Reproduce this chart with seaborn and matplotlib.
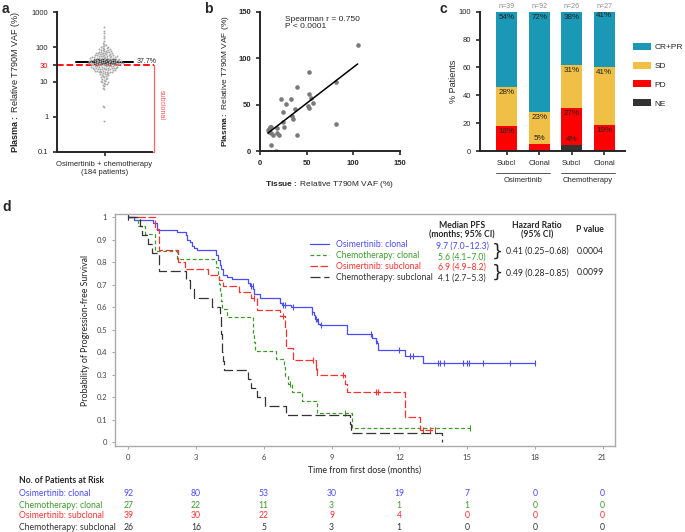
import numpy as np
import pandas as pd
import matplotlib.pyplot as plt
import seaborn as sns
from matplotlib.patches import Patch
from matplotlib.ticker import NullLocator
from matplotlib.transforms import blended_transform_factory

W, H = 685, 532

# ---- panel a: plasma relative T790M VAF (%), one value per patient
vaf_plasma = [380, 300, 250, 210, 180, 150, 130, 120, 115, 110, 105, 100,
              98, 95, 92, 90, 88, 86, 85, 83, 82, 80,
              78, 76, 75, 74, 72, 71, 70, 69, 68, 67, 66, 65, 64, 63, 62, 61, 60, 60,
              59, 58, 57, 56, 55, 55, 54, 53, 52, 51, 50, 50, 49, 48, 48, 47, 46, 46, 45, 45,
              44, 44, 43, 43, 42, 42, 41, 41, 40, 40, 40, 39, 39, 38, 38, 38, 37, 37, 36, 36, 36, 35, 35, 35,
              34, 34, 34, 33, 33, 33, 32, 32, 32, 31, 31, 31, 30, 30, 30, 29, 29, 29, 28, 28, 28,
              27, 27, 27, 26, 26, 26, 25, 25, 25, 24, 24, 24, 23, 23, 23, 22, 22, 22, 21, 21, 21, 20, 20, 20,
              19.5, 19, 18.5, 18, 17.5, 17, 16.5, 16, 15.5, 15, 14.5, 14, 13.5, 13, 12.5,
              12, 11.5, 11, 10.5, 10, 10, 9.5, 9, 8.5, 8,
              7.5, 6.8, 6.2, 2.1, 1.9, 0.78,
              57, 53, 51, 47, 43, 41, 39, 37, 33, 31, 27, 25, 23, 21, 19,
              32, 34, 36, 38, 42, 44, 46, 48, 50]
vaf_center = 37.7
vaf_ci = [33.5, 42.0]
clonal_cut = 30

# ---- panel b: tissue vs plasma VAF
tissue_vaf = [104.6, 52.9, 81.8, 40, 52, 55, 33.2, 22.9, 27.9, 57, 51, 53, 37.1, 35.7, 34.5, 24.3,
              25, 25.7, 81.8, 39.3, 8.6, 10.7, 9.3, 11.8, 13.6, 18.6, 20, 17.9, 11.4, 17, 10, 12]
plasma_vaf = [114.5, 84.7, 74.3, 68.5, 61, 57, 56.3, 55.6, 51, 52, 48, 46, 44.8, 34.8, 37.5, 41.6,
              31.2, 26.2, 28.7, 16.9, 22.6, 25.5, 20.8, 19, 17.2, 19.7, 17.2, 24.8, 6.8, 0.4, 24, 26]

# ---- panel c: best response (% patients)
clonality = ["Subcl", "Clonal", "Subcl", "Clonal"]
arm = ["Osimertinib", "Osimertinib", "Chemotherapy", "Chemotherapy"]
n_pat = [39, 92, 26, 27]
resp_ne = [0, 0, 4, 0]
resp_pd = [18, 5, 27, 19]
resp_sd = [28, 23, 31, 41]
resp_cr = [54, 72, 38, 41]
resp_names = ["CR+PR", "SD", "PD", "NE"]
resp_colors = ["#1b98b6", "#f0bf45", "#ff0000", "#333333"]

# ---- panel d: Kaplan-Meier PFS
blue_t = [0, 0.27, 1.08, 1.25, 2.17, 2.55, 2.62, 2.72, 2.8, 2.9, 3.03, 3.9, 3.97, 4.05, 4.1,
          4.18, 4.35, 4.58, 5.31, 5.4, 5.53, 5.58, 5.83, 6.72, 6.8, 7.19, 8.12, 8.2, 8.27, 8.35,
          8.42, 8.49, 9.67, 10.8, 10.97, 11.03, 11.07, 12.25, 13.05, 18.0]
blue_s = [1.0, 0.99, 0.975, 0.945, 0.935, 0.92, 0.90, 0.89, 0.875, 0.865, 0.857, 0.835, 0.81, 0.79, 0.77,
          0.745, 0.735, 0.725, 0.71, 0.695, 0.68, 0.66, 0.64, 0.62, 0.61, 0.60, 0.58, 0.565, 0.55, 0.54,
          0.525, 0.52, 0.48, 0.465, 0.45, 0.44, 0.41, 0.385, 0.355, 0.355]
blue_cens = [0, 5.45, 5.5, 6.85, 6.95, 7.3, 8.15, 8.3, 8.38, 8.55, 10.75, 10.97, 12.0, 12.47, 12.6,
             13.73, 13.8, 14.0, 14.8, 15.0, 15.1, 15.7, 16.9, 18.0]
green_t = [0, 0.45, 0.75, 1.18, 2.14, 3.9, 3.95, 4.0, 4.05, 4.1, 4.15, 4.35, 5.5, 5.52, 5.55,
           5.6, 6.55, 6.9, 6.95, 7.05, 7.25, 7.7, 8.35, 9.9, 15.15]
green_s = [1.0, 0.963, 0.926, 0.852, 0.815, 0.778, 0.741, 0.704, 0.667, 0.630, 0.593, 0.556, 0.519, 0.481, 0.444,
           0.407, 0.370, 0.333, 0.296, 0.259, 0.222, 0.185, 0.13, 0.065, 0.065]
green_cens = [7.16, 9.6, 15.15]
red_t = [0, 1.2, 1.38, 2.2, 2.5, 3.55, 4.0, 4.2, 4.9, 5.45, 5.7, 6.72, 6.95, 6.97, 7.0, 7.3,
         8.3, 8.37, 9.6, 9.67, 12.25, 12.92, 13.6]
red_s = [1.0, 0.95, 0.855, 0.80, 0.77, 0.745, 0.72, 0.695, 0.667, 0.64, 0.59, 0.562, 0.51, 0.46, 0.42, 0.366,
         0.336, 0.30, 0.26, 0.225, 0.113, 0.056, 0.056]
red_cens = [5.55, 6.83, 8.19, 8.3, 9.52, 10.97, 11.07, 13.05, 13.35, 13.6]
black_t = [0, 0.5, 0.6, 0.85, 1.05, 1.35, 2.55, 2.75, 2.9, 3.7, 4.05, 4.1, 4.15, 4.2, 4.25,
           5.3, 5.45, 5.7, 6.05, 7.0, 9.8, 9.85, 13.88]
black_s = [1.0, 0.96, 0.92, 0.88, 0.84, 0.76, 0.72, 0.68, 0.64, 0.60, 0.56, 0.48, 0.40, 0.36, 0.32,
           0.28, 0.24, 0.20, 0.16, 0.12, 0.08, 0.04, 0.0]
black_cens = [0]

km_names = ["Osimertinib: clonal", "Chemotherapy: clonal", "Osimertinib: subclonal", "Chemotherapy: subclonal"]
km_colors = ["#4b4bff", "#3d9a2b", "#ff3030", "#333333"]
median_pfs = ["9.7 (7.0\u201312.3)", "5.6 (4.1\u20137.0)", "6.9 (4.9\u20138.2)", "4.1 (2.7\u20135.3)"]
hazard_ratio = ["0.41 (0.25\u20130.68)", "0.49 (0.28\u20130.85)"]
p_values = ["0.0004", "0.0099"]
risk_times = [0, 3, 6, 9, 12, 15, 18, 21]
risk_blue = [92, 80, 53, 30, 19, 7, 0, 0]
risk_green = [27, 22, 11, 3, 1, 1, 0, 0]
risk_red = [39, 30, 22, 9, 4, 0, 0, 0]
risk_black = [26, 16, 5, 3, 1, 0, 0, 0]

sns.set_style("ticks")
plt.rcParams['font.family'] = ['Liberation Sans', 'DejaVu Sans']
plt.rcParams['mathtext.fontset'] = 'custom'
plt.rcParams['mathtext.rm'] = 'Liberation Sans'
plt.rcParams['mathtext.bf'] = 'Liberation Sans:bold'


def fx(x):
    return x / W


def fy(y):
    return 1 - y / H


fig = plt.figure(figsize=(W / 100, H / 100), dpi=100)

# ================= a
ax_a = fig.add_axes([fx(57.3), fy(151.7), 94.4 / W, 139.4 / H])
ax_a.set_yscale("log")
df_a = pd.DataFrame({"group": "Osimertinib + chemotherapy\n(184 patients)", "vaf": vaf_plasma})
sns.swarmplot(data=df_a, x="group", y="vaf", ax=ax_a, size=1.4, color="#a8a8a8", linewidth=0)
ax_a.set_xlim(-0.5, 0.5)
ax_a.set_ylim(0.1, 1000)
ax_a.plot([-0.306, 0.306], [vaf_center] * 2, color="black", lw=1.4)
ax_a.errorbar(0, vaf_center, yerr=[[vaf_center - vaf_ci[0]], [vaf_ci[1] - vaf_center]],
              color="black", capsize=8, lw=1.2, capthick=1.2)
ax_a.text(0.34, vaf_center, f"{vaf_center}%", fontsize=5, va="center")
ax_a.plot([-0.5, 0.527], [clonal_cut] * 2, color="red", ls="--", lw=1.3, clip_on=False)
ax_a.plot([0.50, 0.527, 0.527], [0.1, 0.1, clonal_cut], color="#ff6060", lw=0.9, clip_on=False)
ax_a.text(0.6, 2.2, "subclonal", color="#ff5050", fontsize=5, rotation=270, ha="center", va="center")
ax_a.set_yticks([0.1, 1, 10, 30, 100, 1000])
ax_a.set_yticklabels(["0.1", "1", "10", "30", "100", "1000"])
ax_a.yaxis.set_minor_locator(NullLocator())
ax_a.get_yticklabels()[3].set_color("red")
ax_a.set_xlabel("")
ax_a.set_ylabel(r"$\mathbf{Plasma{:}}$ Relative T790M VAF (%)", fontsize=6.5)
ax_a.yaxis.set_label_coords(-0.37, 0.5)
ax_a.tick_params(labelsize=5.5, width=1.2, length=3)
sns.despine(ax=ax_a)
for sp in ax_a.spines.values():
    sp.set_linewidth(1.4)

# ================= b
ax_b = fig.add_axes([fx(260), fy(151), 140 / W, 139.3 / H])
df_b = pd.DataFrame({"tissue": tissue_vaf, "plasma": plasma_vaf})
sns.regplot(data=df_b, x="tissue", y="plasma", ax=ax_b, ci=None, color="#7a7a7a",
            scatter_kws={"s": 11, "linewidths": 0, "alpha": 1},
            line_kws={"color": "black", "lw": 1.1})
ax_b.set_xlim(0, 150)
ax_b.set_ylim(0, 150)
ax_b.set_xticks([0, 50, 100, 150])
ax_b.set_yticks([0, 50, 100, 150])
ax_b.tick_params(labelsize=5.5, width=1.2, length=3)
for lab in ax_b.get_xticklabels() + ax_b.get_yticklabels():
    lab.set_fontweight("bold")
ax_b.set_xlabel(r"$\mathbf{Tissue{:}}$ Relative T790M VAF (%)", fontsize=6)
ax_b.set_ylabel(r"$\mathbf{Plasma{:}}$ Relative T790M VAF (%)", fontsize=6)
ax_b.xaxis.set_label_coords(0.5, -0.2)
ax_b.yaxis.set_label_coords(-0.21, 0.5)
ax_b.text(0.18, 0.97, "Spearman r = 0.750\nP < 0.0001", transform=ax_b.transAxes,
          fontsize=6, va="top", linespacing=1.1)
sns.despine(ax=ax_b)
for sp in ax_b.spines.values():
    sp.set_linewidth(1.4)

# ================= c
ax_c = fig.add_axes([fx(480), fy(151), 145 / W, 139.3 / H])
cols = [f"{a}-{c}-{i}" for i, (a, c) in enumerate(zip(arm, clonality))]
layers = [np.array(resp_ne), np.array(resp_pd), np.array(resp_sd), np.array(resp_cr)]
cum = np.cumsum(layers, axis=0)
for k in range(3, -1, -1):
    sns.barplot(x=cols, y=cum[k], ax=ax_c, color=resp_colors[3 - k], width=0.65,
                saturation=1, edgecolor="none")
for i in range(4):
    bottom = 0
    for k in range(4):
        v = layers[k][i]
        top = bottom + v
        if v > 0:
            ypos = top - 4 if v >= 8 else top + 4
            ax_c.text(i, ypos, f"{v}%", ha="center", va="center", fontsize=5.8, color="#222222")
        bottom = top
    ax_c.text(i, 103.5, f"n={n_pat[i]}", ha="center", va="center", fontsize=5, color="#8a8a8a")
ax_c.set_ylim(0, 100)
ax_c.set_xlim(-0.82, 3.64)
ax_c.set_yticks(range(0, 101, 20))
ax_c.set_xticks(range(4))
ax_c.set_xticklabels(clonality)
ax_c.tick_params(labelsize=5.5, width=1.2, length=3)
ax_c.set_ylabel("% Patients", fontsize=6.5)
ax_c.yaxis.set_label_coords(-0.15, 0.5)
tr_c = ax_c.get_xaxis_transform()
for g, name in enumerate(["Osimertinib", "Chemotherapy"]):
    x0 = 2 * g
    ax_c.plot([x0 - 0.33, x0 + 1.33], [-0.16, -0.16], transform=tr_c, color="#555555", lw=0.7, clip_on=False)
    ax_c.text(x0 + 0.5, -0.21, name, transform=tr_c, ha="center", va="center", fontsize=5.5)
sns.despine(ax=ax_c)
for sp in ax_c.spines.values():
    sp.set_linewidth(1.4)
handles_c = [Patch(facecolor=c, edgecolor="none") for c in resp_colors]
fig.legend(handles_c, resp_names, loc="upper left", bbox_to_anchor=(fx(633), fy(43)),
           frameon=False, fontsize=6, handlelength=2.1, handleheight=0.9, labelspacing=1.25,
           handletextpad=0.45, borderpad=0, borderaxespad=0)

# ================= d
ax_d = fig.add_axes([fx(115), fy(446), 500 / W, 232 / H])
km = [(blue_t, blue_s, blue_cens, None),
      (green_t, green_s, green_cens, (3, 2)),
      (red_t, red_s, red_cens, (6, 2)),
      (black_t, black_s, black_cens, (8, 3))]
lines = []
for (t, s, cens, dash), name, col in zip(km, km_names, km_colors):
    ln, = ax_d.step(t, s, where="post", color=col, lw=0.9, label=name)
    if dash:
        ln.set_dashes(dash)
    lines.append(ln)
    idx = np.searchsorted(t, cens, side="right") - 1
    ax_d.plot(cens, np.array(s)[idx], ls="none", marker="|", ms=4, mew=0.8, color=col)
ax_d.set_xlim(-0.59, 21.55)
ax_d.set_ylim(-0.016, 1.015)
ax_d.set_xticks(risk_times)
ax_d.set_yticks(np.round(np.arange(0, 1.01, 0.1), 1))
ax_d.set_yticklabels([f"{v:g}" for v in np.round(np.arange(0, 1.01, 0.1), 1)])
ax_d.tick_params(labelsize=5.5, length=2, width=0.6, color="#999999", labelcolor="#444444")
for lab in ax_d.get_xticklabels() + ax_d.get_yticklabels():
    lab.set_fontfamily("Lato")
for sp in ax_d.spines.values():
    sp.set_color("#aaaaaa")
    sp.set_linewidth(1)
ax_d.set_ylabel("Probability of Progression-free Survival", fontsize=6.3, family="Lato", color="#222222")
ax_d.set_xlabel("Time from first dose (months)", fontsize=6.3, family="Lato", color="#222222")
ax_d.yaxis.set_label_coords(-0.05, 0.5)
ax_d.xaxis.set_label_coords(0.5, -0.085)
leg = ax_d.legend(lines, km_names, loc="upper left", bbox_to_anchor=(fx(310), fy(240)),
                  bbox_transform=fig.transFigure, frameon=False, handlelength=2.2,
                  handletextpad=0.8, labelspacing=0.25, borderpad=0, borderaxespad=0,
                  prop={"family": "Lato", "size": 6.2})
for txt, col in zip(leg.get_texts(), km_colors):
    txt.set_color(col)

hdr = dict(family="Lato", fontsize=6.2, fontweight="bold", ha="center", va="center", linespacing=1.05)
fig.text(fx(462), fy(230), "Median PFS\n(months; 95% CI)", **hdr)
fig.text(fx(537), fy(230), "Hazard Ratio\n(95% CI)", **hdr)
fig.text(fx(590), fy(230), "P value", **hdr)
row_y = [246, 256.8, 267.4, 278]
for y, txt, col in zip(row_y, median_pfs, km_colors):
    fig.text(fx(462), fy(y), txt, family="Lato", fontsize=6.2, color=col, ha="center", va="center")
for j in range(2):
    ym = (row_y[2 * j] + row_y[2 * j + 1]) / 2
    fig.text(fx(497), fy(ym), "}", family="DejaVu Sans", fontsize=13, ha="center", va="center")
    fig.text(fx(537), fy(ym), hazard_ratio[j], family="Lato", fontsize=6.2, ha="center", va="center")
    fig.text(fx(590), fy(ym), p_values[j], family="Lato", fontsize=6.2, ha="center", va="center")

# risk table
tr_r = blended_transform_factory(ax_d.transData, fig.transFigure)
fig.text(fx(19), fy(480.7), "No. of Patients at Risk", family="Lato", fontsize=6.2,
         fontweight="bold", va="center")
risk_rows = [risk_blue, risk_green, risk_red, risk_black]
risk_y = [493.3, 505, 516, 527.3]
for name, row, col, y in zip(km_names, risk_rows, km_colors, risk_y):
    fig.text(fx(19), fy(y), name, family="Lato", fontsize=6.2, color=col, va="center")
    for t, n in zip(risk_times, row):
        ax_d.text(t, fy(y), str(n), transform=tr_r, family="Lato", fontsize=6.2, color=col,
                  ha="center", va="center", clip_on=False)

# panel letters
for letter, (x, y) in zip("abcd", [(2, 2), (204, 2), (440, 2), (2, 200)]):
    fig.text(fx(x), fy(y), letter, fontsize=10, fontweight="bold", va="top", ha="left")

fig.savefig("out.png", dpi=100)
